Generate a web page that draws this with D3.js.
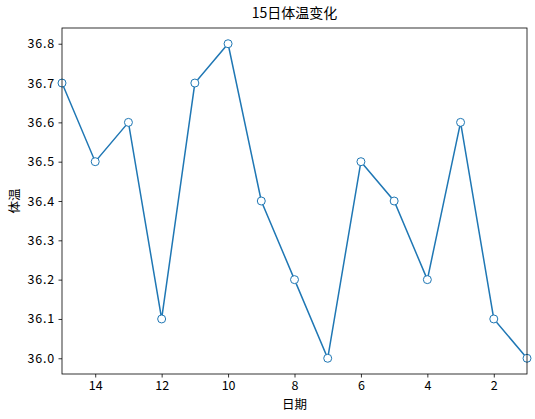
<!DOCTYPE html>
<html><head><meta charset="utf-8">
<script src="https://cdn.jsdelivr.net/npm/d3@7"></script>
<style>body{margin:0;background:#fff}svg{display:block}text{font-family:"Noto Sans CJK SC","Noto Sans",sans-serif;}</style>
</head><body>
<svg id="c" width="535" height="419"></svg>
<script>
const days = [15,14,13,12,11,10,9,8,7,6,5,4,3,2,1];
const temps = [36.7,36.5,36.6,36.1,36.7,36.8,36.4,36.2,36.0,36.5,36.4,36.2,36.6,36.1,36.0];
const xTicks = [14,12,10,8,6,4,2];
const yTicks = [36.0,36.1,36.2,36.3,36.4,36.5,36.6,36.7,36.8];
const title = "15日体温变化", xLabel = "日期", yLabel = "体温";

const L=62,R=527,T=28,B=374;
const svg=d3.select("#c");
const x=d3.scaleLinear().domain([15,1]).range([L,R]);
const y=d3.scaleLinear().domain([35.96,36.84]).range([B,T]);

const xa=svg.append("g").attr("transform",`translate(0,${B})`)
  .call(d3.axisBottom(x).tickValues(xTicks).tickFormat(d3.format("d")).tickSize(3.5).tickPadding(3.5));
const ya=svg.append("g").attr("transform",`translate(${L},0)`)
  .call(d3.axisLeft(y).tickValues(yTicks).tickFormat(d3.format(".1f")).tickSize(3.5).tickPadding(3.5));
[xa,ya].forEach(a=>{a.select(".domain").remove();a.selectAll("text").attr("font-size",12.5).attr("fill","#000").style("font-family",'"Noto Sans CJK SC",sans-serif');a.selectAll("line").attr("stroke","#000").attr("stroke-width",0.8);});
ya.selectAll("text").style("letter-spacing","0.8px");

svg.append("path").datum(days.map((d,i)=>[d,temps[i]]))
  .attr("fill","none").attr("stroke","#1f77b4").attr("stroke-width",1.5)
  .attr("d",d3.line().x(d=>x(d[0])).y(d=>y(d[1])));
svg.append("g").selectAll("circle").data(days.map((d,i)=>[d,temps[i]])).join("circle")
  .attr("cx",d=>x(d[0])).attr("cy",d=>y(d[1])).attr("r",4)
  .attr("fill","#fff").attr("stroke","#1f77b4").attr("stroke-width",1);

svg.append("rect").attr("x",L).attr("y",T).attr("width",R-L).attr("height",B-T)
  .attr("fill","none").attr("stroke","#000").attr("stroke-width",0.8);

svg.append("text").attr("x",(L+R)/2).attr("y",18).attr("text-anchor","middle").attr("font-size",14).text(title);
svg.append("text").attr("x",(L+R)/2).attr("y",409).attr("text-anchor","middle").attr("font-size",12.5).text(xLabel);
svg.append("text").attr("transform",`translate(19,${(T+B)/2}) rotate(-90)`).attr("text-anchor","middle").attr("font-size",12.5).text(yLabel);
</script>
</body></html>
